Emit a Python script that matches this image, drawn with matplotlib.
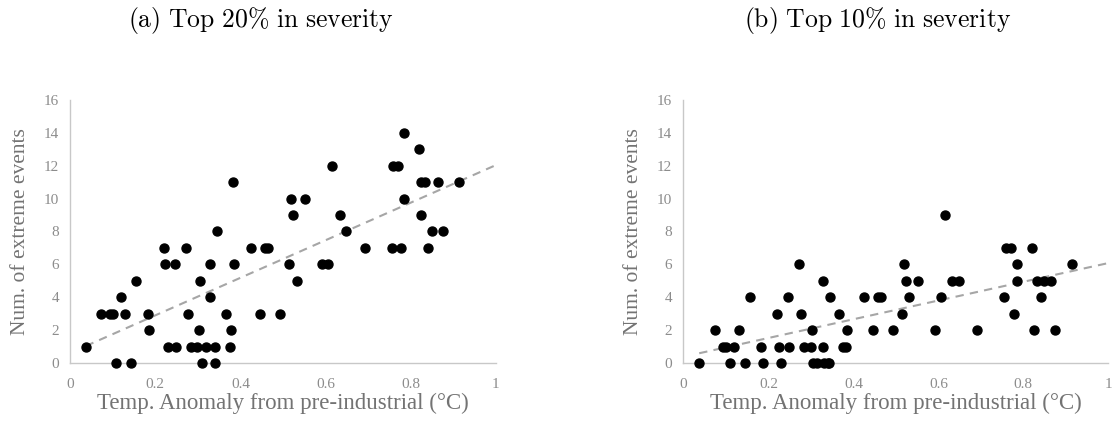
import numpy as np
import matplotlib
matplotlib.use('Agg')
import matplotlib.pyplot as plt

plt.rcParams['mathtext.fontset'] = 'cm'

# temperature anomaly (deg C) and counts of extreme events
temp_a = [0.037, 0.073, 0.094, 0.101, 0.109, 0.119, 0.130, 0.144, 0.156, 0.182,
          0.186, 0.220, 0.224, 0.229, 0.246, 0.248, 0.273, 0.276, 0.284, 0.299,
          0.302, 0.304, 0.310, 0.320, 0.328, 0.329, 0.340, 0.341, 0.345, 0.367,
          0.375, 0.379, 0.382, 0.385, 0.425, 0.447, 0.457, 0.464, 0.494, 0.515,
          0.518, 0.523, 0.532, 0.552, 0.592, 0.606, 0.616, 0.633, 0.649, 0.692,
          0.755, 0.759, 0.771, 0.778, 0.785, 0.785, 0.820, 0.824, 0.825, 0.833,
          0.841, 0.849, 0.865, 0.875, 0.914]
events_a = [1, 3, 3, 3, 0, 4, 3, 0, 5, 3,
            2, 7, 6, 1, 6, 1, 7, 3, 1, 1,
            2, 5, 0, 1, 4, 6, 1, 0, 8, 3,
            1, 2, 11, 6, 7, 3, 7, 7, 3, 6,
            10, 9, 5, 10, 6, 6, 12, 9, 8, 7,
            7, 12, 12, 7, 14, 10, 13, 11, 9, 11,
            7, 8, 11, 8, 11]

temp_b = [0.037, 0.073, 0.094, 0.101, 0.109, 0.119, 0.130, 0.144, 0.156, 0.182,
          0.186, 0.220, 0.224, 0.229, 0.246, 0.248, 0.273, 0.276, 0.284, 0.299,
          0.302, 0.304, 0.315, 0.330, 0.328, 0.329, 0.340, 0.342, 0.345, 0.367,
          0.375, 0.382, 0.385, 0.425, 0.447, 0.457, 0.464, 0.494, 0.515,
          0.518, 0.523, 0.532, 0.552, 0.592, 0.606, 0.616, 0.633, 0.649, 0.692,
          0.755, 0.759, 0.771, 0.778, 0.785, 0.785, 0.820, 0.824, 0.833,
          0.841, 0.849, 0.865, 0.875, 0.914]
events_b = [0, 2, 1, 1, 0, 1, 2, 0, 4, 1,
            0, 3, 1, 0, 4, 1, 6, 3, 1, 1,
            2, 0, 0, 0, 5, 1, 0, 0, 4, 3,
            1, 1, 2, 4, 2, 4, 4, 2, 3,
            6, 5, 4, 5, 2, 4, 9, 5, 5, 2,
            4, 7, 7, 3, 6, 5, 7, 2, 5,
            4, 5, 5, 2, 6]

titles = [r'$\mathrm{(a)\ Top\ 20\%\ in\ severity}$',
          r'$\mathrm{(b)\ Top\ 10\%\ in\ severity}$']

fig = plt.figure(figsize=(11.15, 4.23), dpi=100)
ax1 = fig.add_axes([0.0628, 0.1418, 0.382, 0.622])
ax2 = fig.add_axes([0.613, 0.1418, 0.381, 0.622])

for ax, x, y, title, tx in [(ax1, temp_a, events_a, titles[0], 0.234),
                            (ax2, temp_b, events_b, titles[1], 0.787)]:
    x = np.array(x)
    y = np.array(y)
    ax.scatter(x, y, s=42, color='black', zorder=3, clip_on=False)
    m, c = np.polyfit(x, y, 1)
    xs = np.array([x.min(), 1.0])
    ax.plot(xs, m * xs + c, linestyle=(0, (4, 3)), color='#a6a6a6', lw=1.5, zorder=2)
    ax.set_xlim(0, 1)
    ax.set_ylim(0, 16)
    ax.set_xticks([0, 0.2, 0.4, 0.6, 0.8, 1])
    ax.set_xticklabels(['0', '0.2', '0.4', '0.6', '0.8', '1'])
    ax.set_yticks(range(0, 17, 2))
    for s in ['top', 'right']:
        ax.spines[s].set_visible(False)
    for s in ['left', 'bottom']:
        ax.spines[s].set_color('#c8c8c8')
        ax.spines[s].set_linewidth(1.0)
    ax.tick_params(length=0, labelsize=11, labelcolor='#8c8c8c')
    ax.tick_params(axis='x', pad=11)
    ax.tick_params(axis='y', pad=8)
    for lab in ax.get_xticklabels() + ax.get_yticklabels():
        lab.set_family('Liberation Serif')
    ax.set_xlabel('Temp. Anomaly from pre-industrial (°C)', family='Liberation Serif',
                  fontsize=16.5, color='#737373', labelpad=1)
    ax.set_ylabel('Num. of extreme events', family='Liberation Serif',
                  fontsize=15.5, color='#737373', labelpad=10)
    fig.text(tx, 0.952, title, ha='center', va='center', fontsize=18.5)

fig.savefig('out.png', dpi=100)
